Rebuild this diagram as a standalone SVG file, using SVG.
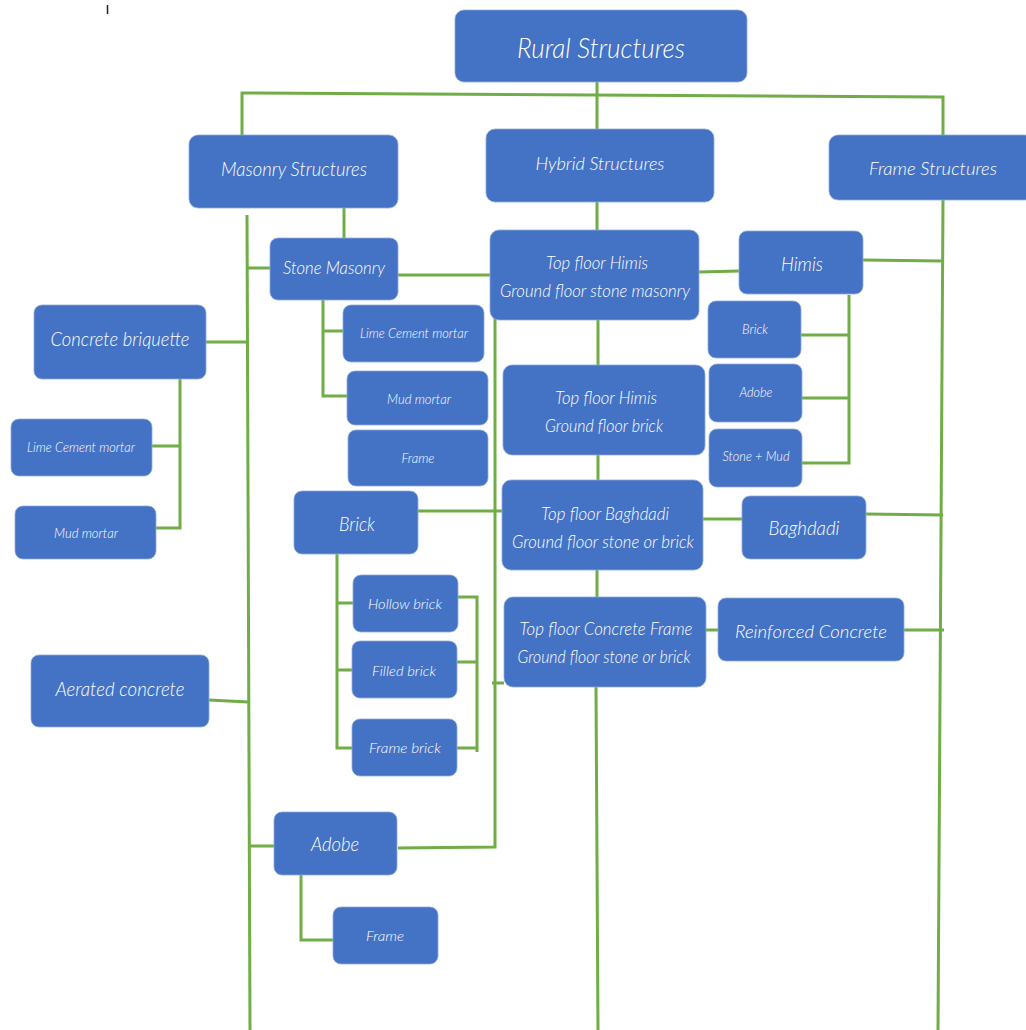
<svg xmlns="http://www.w3.org/2000/svg" width="1026" height="1030" viewBox="0 0 1026 1030">
<style>
.n rect{fill:#4472C4;stroke:#8FAADC;stroke-width:0.8}
.n text{fill:#FFFFFF;font-family:Lato,"Open Sans","Liberation Sans",sans-serif;font-style:italic;font-weight:300;text-anchor:middle}
.c path{fill:none;stroke:#70AD47;stroke-width:3;stroke-linejoin:miter}
</style>
<rect width="1026" height="1030" fill="#FFFFFF"/>
<line x1="107.5" y1="5" x2="107.5" y2="14" stroke="#222" stroke-width="1.5"/>
<g class="c" id="connectors">
<path d="M242,135 V93 L943,97 V135"/>
<path d="M597,82 V129"/>
<path d="M247,215 L250,1030"/>
<path d="M344,208 V238"/>
<path d="M247,268 H270"/>
<path d="M398,275 H490"/>
<path d="M323,300 V396 H347 M323,331 H343"/>
<path d="M206,342 H247"/>
<path d="M180,379 V528 H156 M150,446 H180"/>
<path d="M597,202 V230 M598,320 V365 M598,455 V480 M597,570 V597 M596,687 L598,1030"/>
<path d="M495,316 L495,847 L398,848"/>
<path d="M418,511 H502 M492,683 H504"/>
<path d="M337,554 V748 H352 M337,603 H353 M337,670 H352"/>
<path d="M458,597 H477 V752 M457,662 H477 M457,748 H477"/>
<path d="M209,700 L248,702"/>
<path d="M250,846 H274"/>
<path d="M301,875 V940 H333"/>
<path d="M699,272 L739,271"/>
<path d="M863,260 L942,261"/>
<path d="M943,200 L938,1030"/>
<path d="M801,335 H849 V463 H802 M802,398 H849 M849,295 V335"/>
<path d="M703,519 H742"/>
<path d="M866,514 L943,515"/>
<path d="M706,630 H718 M904,630 H944"/>
</g>
<g class="n" id="rural"><rect x="455" y="10" width="292" height="72" rx="9"/><text x="601" y="58" font-size="27" textLength="168" lengthAdjust="spacingAndGlyphs">Rural Structures</text></g>
<g class="n" id="masonry"><rect x="189" y="135" width="209" height="73" rx="9"/><text x="294" y="176" font-size="19" textLength="146" lengthAdjust="spacingAndGlyphs">Masonry Structures</text></g>
<g class="n" id="hybrid"><rect x="486" y="129" width="228" height="73" rx="9"/><text x="600" y="170" font-size="18" textLength="129" lengthAdjust="spacingAndGlyphs">Hybrid Structures</text></g>
<g class="n" id="frame-structures"><rect x="829" y="135" width="205" height="65" rx="9"/><text x="933" y="175" font-size="18" textLength="128" lengthAdjust="spacingAndGlyphs">Frame Structures</text></g>
<g class="n" id="stone-masonry"><rect x="270" y="238" width="128" height="62" rx="8"/><text x="334" y="274" font-size="17" textLength="102" lengthAdjust="spacingAndGlyphs">Stone Masonry</text></g>
<g class="n" id="top-himis-stone"><rect x="490" y="230" width="209" height="90" rx="9"/><text x="597" y="269" font-size="17" textLength="102" lengthAdjust="spacingAndGlyphs">Top floor Himis</text><text x="595" y="297" font-size="17" textLength="190" lengthAdjust="spacingAndGlyphs">Ground floor stone masonry</text></g>
<g class="n" id="himis"><rect x="739" y="231" width="124" height="63" rx="8"/><text x="802" y="271" font-size="19" textLength="42" lengthAdjust="spacingAndGlyphs">Himis</text></g>
<g class="n" id="concrete-briquette"><rect x="34" y="305" width="172" height="74" rx="8"/><text x="120" y="346" font-size="19" textLength="139" lengthAdjust="spacingAndGlyphs">Concrete briquette</text></g>
<g class="n" id="stone-lime"><rect x="343" y="305" width="141" height="57" rx="8"/><text x="414" y="338" font-size="13" textLength="108" lengthAdjust="spacingAndGlyphs">Lime Cement mortar</text></g>
<g class="n" id="himis-brick"><rect x="708" y="301" width="93" height="57" rx="8"/><text x="755" y="334" font-size="13" textLength="26" lengthAdjust="spacingAndGlyphs">Brick</text></g>
<g class="n" id="stone-mud"><rect x="347" y="371" width="141" height="54" rx="8"/><text x="419" y="404" font-size="13" textLength="64" lengthAdjust="spacingAndGlyphs">Mud mortar</text></g>
<g class="n" id="top-himis-brick"><rect x="503" y="365" width="202" height="90" rx="9"/><text x="606" y="404" font-size="17" textLength="102" lengthAdjust="spacingAndGlyphs">Top floor Himis</text><text x="604" y="432" font-size="17" textLength="118" lengthAdjust="spacingAndGlyphs">Ground floor brick</text></g>
<g class="n" id="himis-adobe"><rect x="709" y="364" width="93" height="58" rx="8"/><text x="756" y="397" font-size="13" textLength="33" lengthAdjust="spacingAndGlyphs">Adobe</text></g>
<g class="n" id="cb-lime"><rect x="11" y="419" width="141" height="57" rx="8"/><text x="81" y="452" font-size="13" textLength="108" lengthAdjust="spacingAndGlyphs">Lime Cement mortar</text></g>
<g class="n" id="stone-frame"><rect x="348" y="430" width="140" height="56" rx="8"/><text x="418" y="463" font-size="13" textLength="33" lengthAdjust="spacingAndGlyphs">Frame</text></g>
<g class="n" id="himis-stone-mud"><rect x="709" y="429" width="93" height="58" rx="8"/><text x="756" y="461" font-size="13" textLength="67" lengthAdjust="spacingAndGlyphs">Stone + Mud</text></g>
<g class="n" id="brick"><rect x="294" y="491" width="124" height="63" rx="8"/><text x="357" y="531" font-size="19" textLength="36" lengthAdjust="spacingAndGlyphs">Brick</text></g>
<g class="n" id="top-baghdadi"><rect x="502" y="480" width="201" height="90" rx="9"/><text x="605" y="520" font-size="17" textLength="128" lengthAdjust="spacingAndGlyphs">Top floor Baghdadi</text><text x="603" y="548" font-size="17" textLength="182" lengthAdjust="spacingAndGlyphs">Ground floor stone or brick</text></g>
<g class="n" id="baghdadi"><rect x="742" y="496" width="124" height="63" rx="8"/><text x="804" y="535" font-size="19" textLength="71" lengthAdjust="spacingAndGlyphs">Baghdadi</text></g>
<g class="n" id="cb-mud"><rect x="15" y="506" width="141" height="53" rx="8"/><text x="86" y="538" font-size="13" textLength="64" lengthAdjust="spacingAndGlyphs">Mud mortar</text></g>
<g class="n" id="hollow-brick"><rect x="353" y="575" width="105" height="57" rx="8"/><text x="405" y="609" font-size="14.5" textLength="74" lengthAdjust="spacingAndGlyphs">Hollow brick</text></g>
<g class="n" id="top-concrete"><rect x="504" y="597" width="202" height="90" rx="9"/><text x="606" y="635" font-size="17" textLength="173" lengthAdjust="spacingAndGlyphs">Top floor Concrete Frame</text><text x="604" y="663" font-size="17" textLength="173" lengthAdjust="spacingAndGlyphs">Ground floor stone or brick</text></g>
<g class="n" id="reinforced-concrete"><rect x="718" y="598" width="186" height="63" rx="8"/><text x="811" y="638" font-size="18" textLength="152" lengthAdjust="spacingAndGlyphs">Reinforced Concrete</text></g>
<g class="n" id="filled-brick"><rect x="352" y="641" width="105" height="57" rx="8"/><text x="404" y="676" font-size="14.5" textLength="64" lengthAdjust="spacingAndGlyphs">Filled brick</text></g>
<g class="n" id="aerated-concrete"><rect x="31" y="655" width="178" height="72" rx="8"/><text x="120" y="696" font-size="19" textLength="129" lengthAdjust="spacingAndGlyphs">Aerated concrete</text></g>
<g class="n" id="frame-brick"><rect x="352" y="719" width="105" height="57" rx="8"/><text x="405" y="753" font-size="14.5" textLength="72" lengthAdjust="spacingAndGlyphs">Frame brick</text></g>
<g class="n" id="adobe"><rect x="274" y="812" width="123" height="63" rx="8"/><text x="335" y="851" font-size="19" textLength="48" lengthAdjust="spacingAndGlyphs">Adobe</text></g>
<g class="n" id="adobe-frame"><rect x="333" y="907" width="105" height="57" rx="8"/><text x="385" y="941" font-size="14.5" textLength="38" lengthAdjust="spacingAndGlyphs">Frame</text></g>
</svg>
